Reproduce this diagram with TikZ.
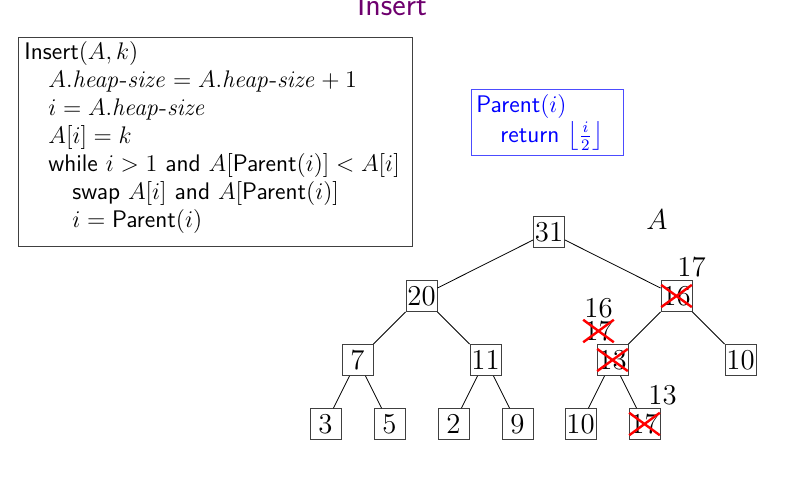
\documentclass[tikz,border=0pt]{standalone}
\usepackage{amsmath,amssymb}
\usepackage{xcolor}
\usetikzlibrary{trees}
\usetikzlibrary{shapes.misc}
\definecolor{slidepurple}{RGB}{110,0,110}

\begin{document}
\begin{tikzpicture}[level distance=32pt,
level 1/.style={sibling distance=127.5pt},
level 2/.style={sibling distance=64pt},
level 3/.style={sibling distance=32pt}]
\tikzstyle{every node}=[draw=none]
\tikzstyle{val}=[inner sep=0pt, font=\fontsize{14.4}{16}\selectfont]
\tikzstyle{key}=[draw=black!75, minimum size=15.5pt, inner sep=0.5pt, font=\fontsize{14.4}{16}\selectfont]
\tikzstyle{every child node}=[key]
\tikzstyle{gone}=[val, cross out, draw=red, line width=1.2pt]
\tikzstyle{code}=[draw=black!75, anchor=north west, align=left, text width=191pt, inner xsep=3pt, inner ysep=2pt, font=\sffamily\fontsize{12}{14}\selectfont]
\tikzstyle{parentbox}=[draw=blue!70, text=blue, anchor=north west, align=left, text width=71pt, inner sep=2.5pt, font=\sffamily\fontsize{12}{15}\selectfont]

\useasboundingbox (0,0) rectangle (396pt,-250pt);

\node (Title) [anchor=base, text=slidepurple, font=\sffamily\fontsize{16}{19}\selectfont] at (196pt,-7.5pt) {Insert};

\node (Code) [code] at (9pt,-18.5pt) {Insert$(A,k)$\\
\hspace*{12pt}$A.\mathit{heap\textrm{-}size} = A.\mathit{heap\textrm{-}size}+1$\\
\hspace*{12pt}$i = A.\mathit{heap\textrm{-}size}$\\
\hspace*{12pt}$A[i] = k$\\
\hspace*{12pt}while $i>1$ and $A[\textsf{Parent}(i)] < A[i]$\\
\hspace*{24pt}swap $A[i]$ and $A[\textsf{Parent}(i)]$\\
\hspace*{24pt}$i = \textsf{Parent}(i)$\rule[-7.5pt]{0pt}{7.5pt}};

\node (Parent) [parentbox] at (235.5pt,-44.5pt) {Parent$(i)$\\
\hspace*{12pt}return $\left\lfloor\frac{i}{2}\right\rfloor$};

\node (ArrA) [val] at (328.5pt,-110pt) {$A$};

\node (Root) [key] at (274.5pt,-116pt) {31}
    child { node (n20) {20}
    child { node (n7) {7}
    child { node (n3) {3} } child { node (n5) {5} } }
    child { node (n11) {11}
    child { node (n2) {2} } child { node (n9) {9} } }
}
child { node (n16) {16}
    child { node (n13) {13}
    child { node (n10a) {10} } child { node (n17) {17} } }
    child { node (n10b) {10} }
};

% old values crossed out
\node (x16) [gone] at (n16) {\phantom{16}};
\node (x13) [gone] at (n13) {\phantom{13}};
\node (x17) [gone] at (n17) {\phantom{17}};

% new values
\node (v16) [val] at ([shift={(7.5pt,14.5pt)}]n16) {17};
\node (v13a) [gone] at ([shift={(-7pt,14.5pt)}]n13) {17};
\node (v13b) [val] at ([shift={(-7pt,26pt)}]n13) {16};
\node (v17) [val] at ([shift={(9pt,14.5pt)}]n17) {13};

\end{tikzpicture}
\end{document}
